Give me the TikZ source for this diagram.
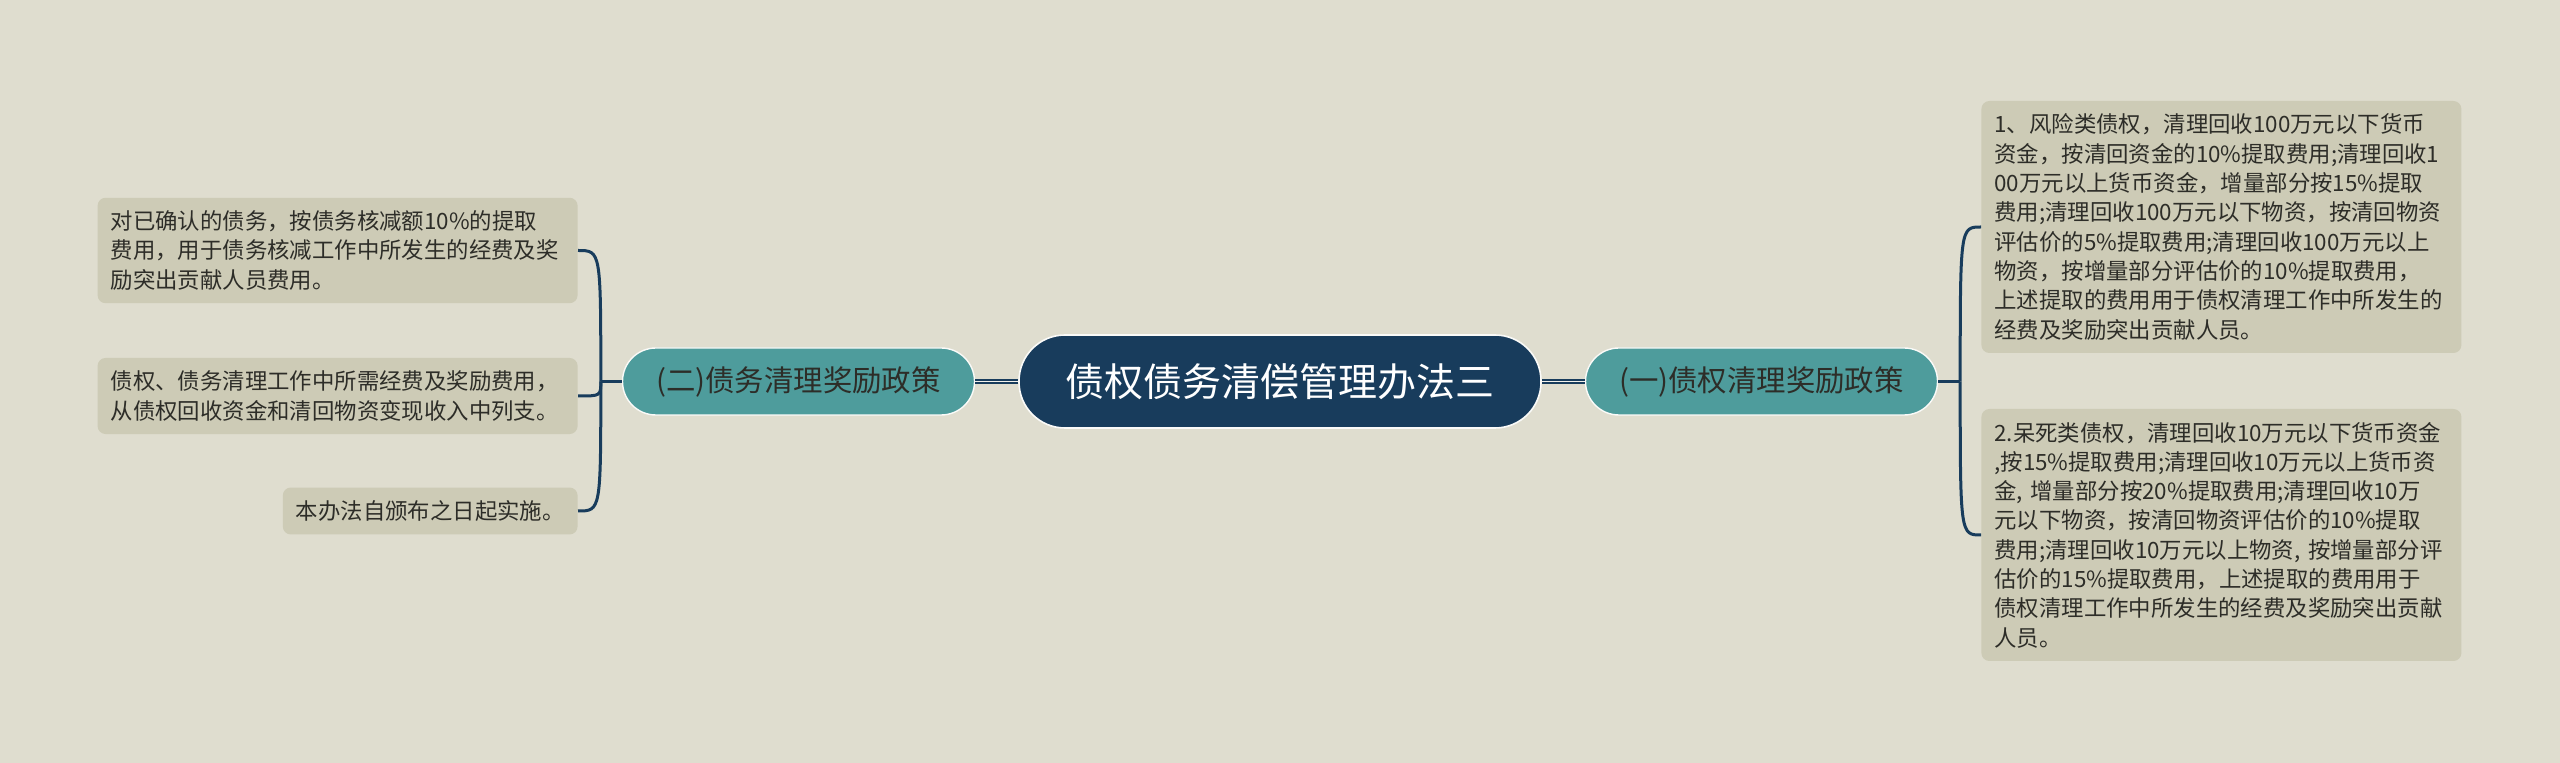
\documentclass[tikz,border=0pt]{standalone}
\usepackage{fontspec}
\setmainfont{Noto Sans CJK SC}
\usetikzlibrary{shapes}
\definecolor{bgcol}{RGB}{223,221,207}
\definecolor{rootcol}{RGB}{24,60,92}
\definecolor{branchcol}{RGB}{78,156,156}
\definecolor{leafcol}{RGB}{205,203,182}
\definecolor{linkcol}{RGB}{24,60,92}
\definecolor{txtcol}{RGB}{45,45,40}

\begin{document}
\begin{tikzpicture}[x=0.5pt,y=-0.5pt,
  root/.style={draw=white!85!bgcol,line width=0.8pt,fill=rootcol,rounded corners=23pt,minimum width=261pt,minimum height=46.5pt,text=white,font=\fontsize{19.5}{23}\selectfont},
  branch/.style={draw=white!85!bgcol,line width=0.7pt,fill=branchcol,rounded corners=16.7pt,minimum width=176pt,minimum height=33.5pt,text=txtcol,font=\fontsize{14.7}{18}\selectfont},
  leaf/.style={fill=leafcol,rounded corners=4pt,inner xsep=6.5pt,inner ysep=6.5pt,align=left,text=txtcol,font=\fontsize{11.2}{14.65}\selectfont},
  wide/.style={text width=227pt},
  link/.style={draw=linkcol,line width=1.5pt},
  trunk/.style={draw=linkcol,line width=0.8pt,double=white!60!bgcol,double distance=0.45pt}]
\fill[bgcol] (0,0) rectangle (2560,763);
\useasboundingbox (0,0) rectangle (2560,763);

\node[root] (root) at (1280,381.5) {债权债务清偿管理办法三};
\node[branch] (lb) at (798.5,381.5) {(二)债务清理奖励政策};
\node[branch] (rb) at (1761.5,381.5) {(一)债权清理奖励政策};

\node[leaf,wide,anchor=west] (r1) at (1981,227) {1、风险类债权，清理回收100万元以下货币\\
资金，按清回资金的10\%提取费用;清理回收1\\
00万元以上货币资金，增量部分按15\%提取\\
费用;清理回收100万元以下物资，按清回物资\\
评估价的5\%提取费用;清理回收100万元以上\\
物资，按增量部分评估价的10\%提取费用，\\
上述提取的费用用于债权清理工作中所发生的\\
经费及奖励突出贡献人员。};
\node[leaf,wide,anchor=west] (r2) at (1981,535) {2.呆死类债权，清理回收10万元以下货币资金\\
,按15\%提取费用;清理回收10万元以上货币资\\
金,~增量部分按20\%提取费用;清理回收10万\\
元以下物资，按清回物资评估价的10\%提取\\
费用;清理回收10万元以上物资,~按增量部分评\\
估价的15\%提取费用，上述提取的费用用于\\
债权清理工作中所发生的经费及奖励突出贡献\\
人员。};

\node[leaf,wide,anchor=east] (l1) at (578,250.5) {对已确认的债务，按债务核减额10\%的提取\\
费用，用于债务核减工作中所发生的经费及奖\\
励突出贡献人员费用。};
\node[leaf,wide,anchor=east] (l2) at (578,396) {债权、债务清理工作中所需经费及奖励费用，\\
从债权回收资金和清回物资变现收入中列支。};
\node[leaf,anchor=east] (l3) at (578,511) {本办法自颁布之日起实施。};

\draw[trunk] (root) -- (lb);
\draw[trunk] (root) -- (rb);

\draw[link] (lb.west) -- ++(-21,0) coordinate (ls);
\draw[link] (ls) .. controls (ls |- l1.east) .. (l1.east);
\draw[link] (ls) .. controls (ls |- l2.east) .. (l2.east);
\draw[link] (ls) .. controls (ls |- l3.east) .. (l3.east);

\draw[link] (rb.east) -- ++(22,0) coordinate (rs);
\draw[link] (rs) .. controls (rs |- r1.west) .. (r1.west);
\draw[link] (rs) .. controls (rs |- r2.west) .. (r2.west);
\end{tikzpicture}
\end{document}
